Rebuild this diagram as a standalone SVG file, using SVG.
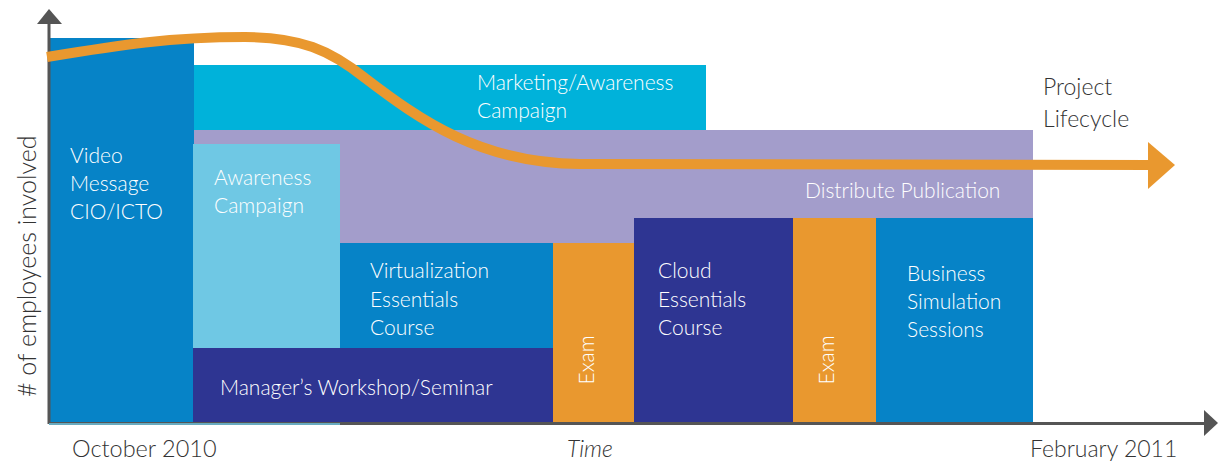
<svg xmlns="http://www.w3.org/2000/svg" width="1221" height="463" viewBox="0 0 1221 463">
<defs>
<style>
.w{fill:#fff;font-family:Lato,"Open Sans",sans-serif;font-size:21px;font-weight:300}
.g{fill:#333;font-family:Lato,"Open Sans",sans-serif;font-size:23px;font-weight:300}
.blue{fill:#0683c7}.cyan{fill:#00b2da}.purple{fill:#a39dcb}.lblue{fill:#6fc8e4}.navy{fill:#2e3592}.orange{fill:#e9982f}
</style>
</defs>
<g id="video"><rect class="blue" x="49" y="38" width="145" height="386"/><text class="w" x="70"><tspan x="70" y="163">Video</tspan><tspan x="70" y="191">Message</tspan><tspan x="70" y="219">CIO/ICTO</tspan></text></g>
<g id="marketing"><rect class="cyan" x="194" y="65" width="512" height="65"/><text class="w"><tspan x="477" y="90">Marketing/Awareness</tspan><tspan x="477" y="118">Campaign</tspan></text></g>
<g id="distribute"><rect class="purple" x="194" y="130" width="839" height="88"/><rect class="purple" x="340" y="218" width="294" height="25"/><text class="w" x="805" y="198">Distribute Publication</text></g>
<g id="awareness"><rect class="lblue" x="193" y="144" width="147" height="204"/><text class="w"><tspan x="214" y="185">Awareness</tspan><tspan x="214" y="213">Campaign</tspan></text></g>
<g id="virtualization"><rect class="blue" x="340" y="243" width="213" height="105"/><text class="w"><tspan x="370" y="278">Virtualization</tspan><tspan x="370" y="307">Essentials</tspan><tspan x="370" y="335">Course</tspan></text></g>
<g id="manager"><rect class="navy" x="193" y="348" width="360" height="76"/><text class="w" x="220" y="395">Manager’s Workshop/Seminar</text></g>
<g id="exam1"><rect class="orange" x="553" y="243" width="81" height="181"/><text class="w" transform="translate(594,360) rotate(-90)" text-anchor="middle">Exam</text></g>
<g id="cloud"><rect class="navy" x="634" y="218" width="159" height="206"/><text class="w"><tspan x="658" y="278">Cloud</tspan><tspan x="658" y="307">Essentials</tspan><tspan x="658" y="335">Course</tspan></text></g>
<g id="exam2"><rect class="orange" x="793" y="218" width="83" height="206"/><text class="w" transform="translate(834,360) rotate(-90)" text-anchor="middle">Exam</text></g>
<g id="business"><rect class="blue" x="876" y="218" width="157" height="206"/><text class="w"><tspan x="907" y="281">Business</tspan><tspan x="907" y="309">Simulation</tspan><tspan x="907" y="337">Sessions</tspan></text></g>
<g id="connectors">
<line x1="49" y1="424" x2="49" y2="20" stroke="#555" stroke-width="3"/>
<polygon points="37,24 49,9 62,24" fill="#555"/>
<line x1="49" y1="423.5" x2="1206" y2="423.5" stroke="#555" stroke-width="3"/>
<line x1="49" y1="424" x2="340" y2="424" stroke="#6fc8e4" stroke-width="1.5"/>
<polygon points="1204,410 1218,423 1204,436" fill="#555"/>
<path d="M47,57 C120,45 170,37 245,37 C300,37 330,50 365,78 C420,120 480,163 580,164 L1152,165" fill="none" stroke="#e9982f" stroke-width="10"/>
<polygon points="1148,142 1175,165 1148,189" fill="#e9982f"/>
</g>
<g id="labels">
<text class="g" x="1043" y="95">Project</text>
<text class="g" x="1043" y="127">Lifecycle</text>
<text class="g" transform="translate(36,397) rotate(-90)" style="font-size:25px"># of employees involved</text>
<text class="g" x="72" y="457" style="font-size:23.5px">October 2010</text>
<text class="g" x="567" y="457" font-style="italic">Time</text>
<text class="g" x="1030" y="457">February 2011</text>
</g>
</svg>
